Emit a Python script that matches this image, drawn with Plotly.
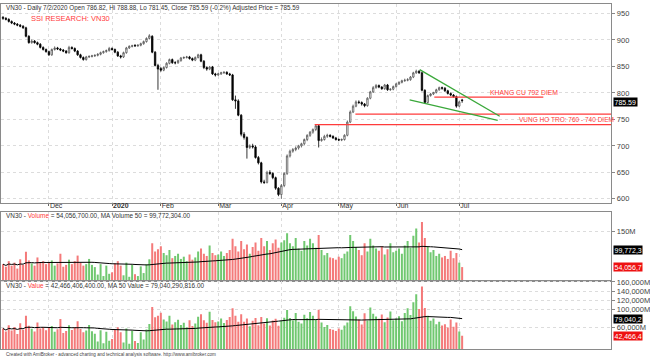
import plotly.graph_objects as go
import pandas as pd

# ---------------- DATA ----------------
month_idx = [16, 38, 55, 75, 97, 117, 137, 159]
month_lbl = ["Dec", "<b>2020</b>", "Feb", "Mar", "Apr", "May", "Jun", "Jul"]

opens = [943, 941, 939, 935, 932, 930, 928, 926, 923, 907, 895, 898, 895, 892, 886, 882,
         878, 872, 882, 885, 883, 881, 879, 876, 886, 884, 879, 872, 867, 863, 868, 869, 870, 871, 873, 876, 878, 880,
         884, 882, 877, 870, 868, 876, 885, 888, 890, 889, 890, 893, 897, 903, 907, 877, 852,
         846, 843, 848, 856, 863, 857, 857, 861, 866, 867, 868, 865, 862, 867, 872, 860, 848, 845, 849, 836,
         834, 836, 838, 839, 836, 834, 787, 785, 758, 722, 716, 697, 700, 698, 678, 668, 632, 631, 650, 648, 640, 620,
         608, 625, 648, 681, 690, 693, 696, 700, 704, 712, 720, 726, 731, 738, 710, 712, 718, 720, 718, 715,
         712, 711, 712, 720, 745, 764, 775, 783, 782, 779, 776, 790, 802, 810, 814, 811, 808, 815, 806, 807,
         812, 817, 820, 823, 824, 825, 830, 838, 841, 838, 805, 782, 795, 798, 801, 806, 810, 809, 804, 799, 796, 793,
         775, 786.82]
highs = [945, 943, 941, 937, 934, 932, 930, 928, 925, 909, 901, 900, 897, 894, 888, 884,
         880, 884, 888, 887, 885, 883, 881, 889, 888, 886, 881, 874, 869, 870, 871, 872, 873, 875, 878, 880, 882, 887,
         886, 884, 879, 872, 878, 887, 890, 891, 892, 892, 895, 899, 905, 911, 909, 879, 855,
         849, 850, 858, 865, 865, 860, 863, 868, 869, 870, 870, 867, 869, 874, 874, 862, 850, 851, 851, 838,
         838, 840, 841, 841, 838, 836, 795, 788, 760, 726, 718, 703, 704, 701, 681, 670, 636, 653, 654, 650, 642, 622,
         628, 650, 684, 693, 696, 699, 702, 706, 714, 722, 728, 733, 741, 740, 716, 721, 723, 722, 720, 717,
         714, 714, 722, 748, 767, 778, 786, 786, 784, 781, 792, 804, 813, 817, 816, 813, 817, 817, 809, 814,
         819, 822, 825, 827, 828, 832, 840, 844, 843, 840, 807, 797, 800, 802, 808, 812, 812, 811, 806, 801, 798, 795,
         785, 788.88]
lows = [938, 937, 933, 930, 928, 926, 924, 921, 905, 893, 893, 893, 890, 884, 880, 876,
        870, 870, 880, 881, 879, 877, 874, 874, 882, 877, 870, 865, 861, 861, 866, 867, 868, 869, 871, 874, 876, 878,
        880, 875, 868, 865, 866, 874, 883, 886, 887, 887, 888, 891, 895, 901, 875, 850, 806,
        840, 841, 846, 854, 855, 854, 855, 859, 864, 865, 863, 860, 860, 865, 858, 845, 842, 843, 834, 831,
        832, 834, 836, 834, 832, 785, 770, 756, 718, 712, 676, 694, 695, 676, 665, 629, 628, 629, 645, 637, 617, 605,
        600, 622, 645, 678, 687, 690, 693, 697, 701, 709, 717, 723, 728, 697, 708, 710, 715, 716, 713, 710,
        709, 709, 710, 718, 743, 762, 773, 779, 776, 773, 774, 788, 800, 808, 809, 806, 806, 804, 804, 805,
        810, 815, 818, 821, 822, 823, 828, 836, 836, 803, 780, 780, 793, 796, 799, 804, 806, 802, 797, 794, 791, 772,
        773, 781.45]
closes = [941, 939, 935, 932, 930, 928, 926, 923, 907, 895, 898, 895, 892, 886, 882, 878,
          872, 882, 885, 883, 881, 879, 876, 886, 884, 879, 872, 867, 863, 868, 869, 870, 871, 873, 876, 878, 880, 884,
          882, 877, 870, 868, 876, 885, 888, 889, 889, 890, 893, 897, 903, 908, 877, 852, 845,
          843, 848, 856, 863, 857, 857, 861, 866, 867, 868, 865, 862, 867, 872, 860, 848, 845, 849, 836, 834,
          836, 838, 839, 836, 834, 787, 785, 758, 722, 716, 697, 700, 698, 678, 668, 632, 631, 650, 648, 640, 620, 608,
          625, 648, 681, 690, 693, 696, 700, 704, 712, 720, 726, 731, 738, 710, 712, 718, 720, 718, 715, 712,
          711, 712, 720, 745, 764, 775, 783, 782, 779, 776, 790, 802, 810, 814, 811, 808, 815, 806, 807, 812,
          817, 820, 823, 824, 825, 830, 838, 841, 838, 805, 782, 795, 798, 801, 806, 810, 809, 804, 799, 796, 793, 775,
          783, 785.59]

# volume in millions of shares
volume = [62, 55, 70, 58, 66, 50, 75, 60, 95, 72, 64, 58, 80, 66, 70, 62,
          68, 72, 58, 64, 90, 55, 60, 74, 62, 70, 85, 66, 58, 62, 76, 60, 54, 34, 62, 30, 58, 36,
          40, 64, 70, 58, 32, 66, 28, 60, 35, 30, 56, 38, 62, 75, 118, 96, 102,
          110, 92, 86, 100, 78, 84, 90, 76, 82, 70, 88, 74, 80, 96, 104, 90, 84, 112, 92, 86,
          88, 96, 84, 92, 100, 130, 110, 96, 124, 102, 115, 90, 108, 120, 98, 132, 110, 124, 100, 118, 128, 106,
          120, 126, 145, 118, 110, 132, 104, 98, 124, 112, 130, 118, 106, 140, 100, 86, 92, 80, 78, 74,
          82, 78, 90, 96, 140, 124, 108, 100, 86, 118, 96, 130, 112, 104, 98, 110, 88, 102, 118, 94,
          98, 104, 90, 112, 124, 106, 138, 158, 120, 175, 132, 108, 94, 100, 84, 90, 80, 84, 76, 98, 78, 92,
          66, 54.0567]
# traded value in thousands of millions VND
value = [58.3, 51.7, 65.5, 54.1, 61.4, 46.4, 69.5, 55.4, 86.2, 64.4, 57.5, 51.9, 71.4, 58.5, 61.7, 54.4,
         59.3, 63.5, 51.3, 56.5, 79.3, 48.3, 52.6, 65.6, 54.8, 61.5, 74.1, 57.2, 50.1, 53.8, 66.1, 52.2, 47.0, 29.7, 54.3, 26.3, 51.0, 31.8,
         35.3, 56.1, 60.9, 50.3, 28.0, 58.4, 24.9, 53.3, 31.1, 26.7, 50.0, 34.1, 56.0, 68.1, 105.0, 82.6, 86.2,
         92.7, 78.0, 73.6, 86.3, 66.8, 72.0, 77.5, 65.8, 71.1, 60.8, 76.1, 63.8, 69.4, 83.7, 89.4, 76.3, 71.0, 95.1, 76.9, 71.7,
         73.6, 80.4, 70.5, 76.9, 83.4, 102.3, 86.4, 72.8, 89.5, 73.0, 80.2, 63.0, 75.4, 81.4, 65.5, 83.4, 69.4, 80.6, 64.8, 75.5, 79.4, 64.4,
         75.0, 81.6, 98.7, 81.4, 76.2, 91.9, 72.8, 69.0, 88.3, 80.6, 94.4, 86.3, 78.2, 99.4, 71.2, 61.7, 66.2, 57.4, 55.8, 52.7,
         58.3, 55.5, 64.8, 71.5, 107.0, 96.1, 84.6, 78.2, 67.0, 91.6, 75.8, 104.3, 90.7, 84.7, 79.5, 88.9, 71.7, 82.2, 95.2, 76.3,
         80.1, 85.3, 74.1, 92.3, 102.3, 88.0, 115.6, 132.9, 100.6, 150.0, 103.2, 85.9, 75.0, 80.1, 67.7, 72.9, 64.7, 67.5, 60.7, 78.0, 61.9, 71.3,
         51.7, 42.466]

# drawn levels / trend lines (bar index, price)
resist_level = 792
resist_span = [150.3, 188.3]
support_levels = [760, 740]
support_starts = [122.8, 108.6]
upper_trend_x = [145.2, 173.1]
upper_trend_y = [844, 756]
lower_trend_x = [141.7, 172.4]
lower_trend_y = [787, 748]

price_ticks = [600, 650, 700, 750, 800, 850, 900, 950]
value_ticks = [60, 100, 120, 140, 160]
value_ticktext = ["60,000M", "100,000M", "120,000M", "140,000M", "160,000M"]

# ---------------- FIGURE ----------------
W, H = 650, 361
idx = list(range(len(closes)))
XMAX = 212.0
XR = [-0.7, XMAX]
xd = [0, 617 / W]

GREEN = "#70c870"
RED = "#f47a7a"
LRED = "#ff3b3b"
bar_colors = [GREEN if c >= o else RED for o, c in zip(opens, closes)]
vol_ma = pd.Series(volume).rolling(50, min_periods=1).mean()
val_ma = pd.Series(value).rolling(50, min_periods=1).mean()

fig = go.Figure()
fig.add_trace(go.Candlestick(
    x=idx, open=opens, high=highs, low=lows, close=closes,
    increasing=dict(line=dict(color="#555555", width=0.8), fillcolor="white"),
    decreasing=dict(line=dict(color="#000000", width=0.8), fillcolor="black"),
    whiskerwidth=0, xaxis="x", yaxis="y", showlegend=False, hoverinfo="skip"))

# support / resistance lines
fig.add_trace(go.Scatter(x=resist_span, y=[resist_level, resist_level], mode="lines",
                         line=dict(color=LRED, width=1.3), xaxis="x", yaxis="y", showlegend=False))
for lvl, st in zip(support_levels, support_starts):
    fig.add_trace(go.Scatter(x=[st, XMAX], y=[lvl, lvl], mode="lines",
                             line=dict(color=LRED, width=1.3), xaxis="x", yaxis="y", showlegend=False))
fig.add_trace(go.Scatter(x=upper_trend_x, y=upper_trend_y, mode="lines",
                         line=dict(color="#3aa83a", width=1.3), xaxis="x", yaxis="y", showlegend=False))
fig.add_trace(go.Scatter(x=lower_trend_x, y=lower_trend_y, mode="lines",
                         line=dict(color="#3aa83a", width=1.3), xaxis="x", yaxis="y", showlegend=False))

fig.add_trace(go.Bar(x=idx, y=volume, marker=dict(color=bar_colors, line=dict(width=0)),
                     xaxis="x2", yaxis="y2", showlegend=False))
fig.add_trace(go.Scatter(x=idx, y=vol_ma, mode="lines", line=dict(color="black", width=1),
                         xaxis="x2", yaxis="y2", showlegend=False))
fig.add_trace(go.Bar(x=idx, y=value, marker=dict(color=bar_colors, line=dict(width=0)),
                     xaxis="x3", yaxis="y3", showlegend=False))
fig.add_trace(go.Scatter(x=idx, y=val_ma, mode="lines", line=dict(color="black", width=1),
                         xaxis="x3", yaxis="y3", showlegend=False))

def py(px):
    return 1 - px / H

FONT = "Liberation Sans, Arial, sans-serif"
grid = dict(showgrid=True, gridcolor="#dcdcdc", griddash="dot", gridwidth=1)
line = dict(showline=True, linecolor="#8a8a8a", linewidth=1, mirror=True, zeroline=False)

xcommon = dict(domain=xd, range=XR, tickvals=month_idx, **grid, **line)
fig.update_layout(
    width=W, height=H, margin=dict(l=0, r=0, t=0, b=0),
    paper_bgcolor="white", plot_bgcolor="white", bargap=0.3,
    font=dict(family=FONT, size=8, color="#333"),
    xaxis=dict(anchor="y", ticktext=month_lbl, ticks="outside", ticklen=2, tickcolor="#666",
               ticklabelposition="outside right", ticklabelstandoff=-4,
               tickfont=dict(size=7, color="#333"),
               rangeslider=dict(visible=False), **xcommon),
    xaxis2=dict(anchor="y2", matches="x", showticklabels=False, ticks="", **xcommon),
    xaxis3=dict(anchor="y3", matches="x", showticklabels=False, ticks="", **xcommon),
    yaxis=dict(domain=[py(202), 1 - 1 / H], range=[592.6, 968], side="right", anchor="x",
               tickvals=price_ticks, ticks="outside", ticklen=3, tickcolor="#888",
               tickfont=dict(size=7.5, color="#444"), **grid, **line),
    yaxis2=dict(domain=[py(281), py(211)], range=[17, 203], side="right", anchor="x2",
                tickvals=[150], ticktext=["150M"], ticks="outside", ticklen=3, tickcolor="#888",
                tickfont=dict(size=7.5, color="#444"), **grid, **line),
    yaxis3=dict(domain=[py(350), py(281)], range=[13.3, 162.2], side="right", anchor="x3",
                tickvals=value_ticks, ticktext=value_ticktext, ticks="outside", ticklen=3, tickcolor="#888",
                tickfont=dict(size=7.5, color="#444"), **grid, **line),
)

ann = []
ann.append(dict(xref="paper", yref="paper", x=3 / W, y=py(5.5), xanchor="left", yanchor="middle",
                text="VN30 - Daily 7/2/2020 Open 786.82, Hi 788.88, Lo 781.45, Close 785.59 (-0.2%) Adjusted Price = 785.59",
                showarrow=False, font=dict(size=6.3, color="#333", family=FONT)))
ann.append(dict(xref="paper", yref="paper", x=28 / W, y=py(15.5), xanchor="left", yanchor="middle",
                text="SSI RESEARCH: VN30", showarrow=False, font=dict(size=7.5, color=LRED, family=FONT)))
ann.append(dict(xref="x", yref="y", x=169.3, y=resist_level, xanchor="left", yanchor="bottom",
                text="KHANG CU 792 DIEM", showarrow=False, borderpad=0, font=dict(size=6.8, color=LRED, family=FONT)))
ann.append(dict(xref="x", yref="y", x=179.3, y=750.5, xanchor="left", yanchor="middle",
                text="VUNG HO TRO: 760 - 740 DIEM", showarrow=False, borderpad=0, font=dict(size=6.5, color=LRED, family=FONT)))
ann.append(dict(xref="paper", yref="paper", x=3 / W, y=py(215), xanchor="left", yanchor="middle",
                text="VN30 - <span style='color:#ff3b3b'>Volume</span> = 54,056,700.00, MA Volume 50 = 99,772,304.00",
                showarrow=False, font=dict(size=6.4, color="#333", family=FONT)))
ann.append(dict(xref="paper", yref="paper", x=3 / W, y=py(286), xanchor="left", yanchor="middle",
                text="VN30 - <span style='color:#ff3b3b'>Value</span> = 42,466,406,400.00, MA 50 Value = 79,040,290,816.00",
                showarrow=False, font=dict(size=6.4, color="#333", family=FONT)))
ann.append(dict(xref="paper", yref="paper", x=3 / W, y=py(355.5), xanchor="left", yanchor="middle",
                text="Created with AmiBroker - advanced charting and technical analysis software. http://www.amibroker.com",
                showarrow=False, font=dict(size=4.6, color="#444", family=FONT)))

def tag(yref, yv, txt, bg, yshift=0):
    return dict(xref="paper", yref=yref, x=619 / W, y=yv, xanchor="left", yanchor="middle",
                text=txt, showarrow=False, bgcolor=bg, borderpad=0.5, yshift=yshift,
                font=dict(size=7, color="white", family=FONT))

ann.append(tag("y", closes[-1], "785.59", "black", yshift=-1))
ann.append(tag("y2", float(vol_ma.iloc[-1]), "99,772,3", "black"))
ann.append(tag("y2", volume[-1], "54,056,7", "#ee1111"))
ann.append(tag("y3", float(val_ma.iloc[-1]), "79,040,2", "black"))
ann.append(tag("y3", value[-1], "42,466,4", "#ee1111"))
fig.update_layout(annotations=ann)

fig.write_html("out.html", config={"displayModeBar": False},
               post_script="document.body.style.margin='0px';document.body.style.overflow='hidden';")
